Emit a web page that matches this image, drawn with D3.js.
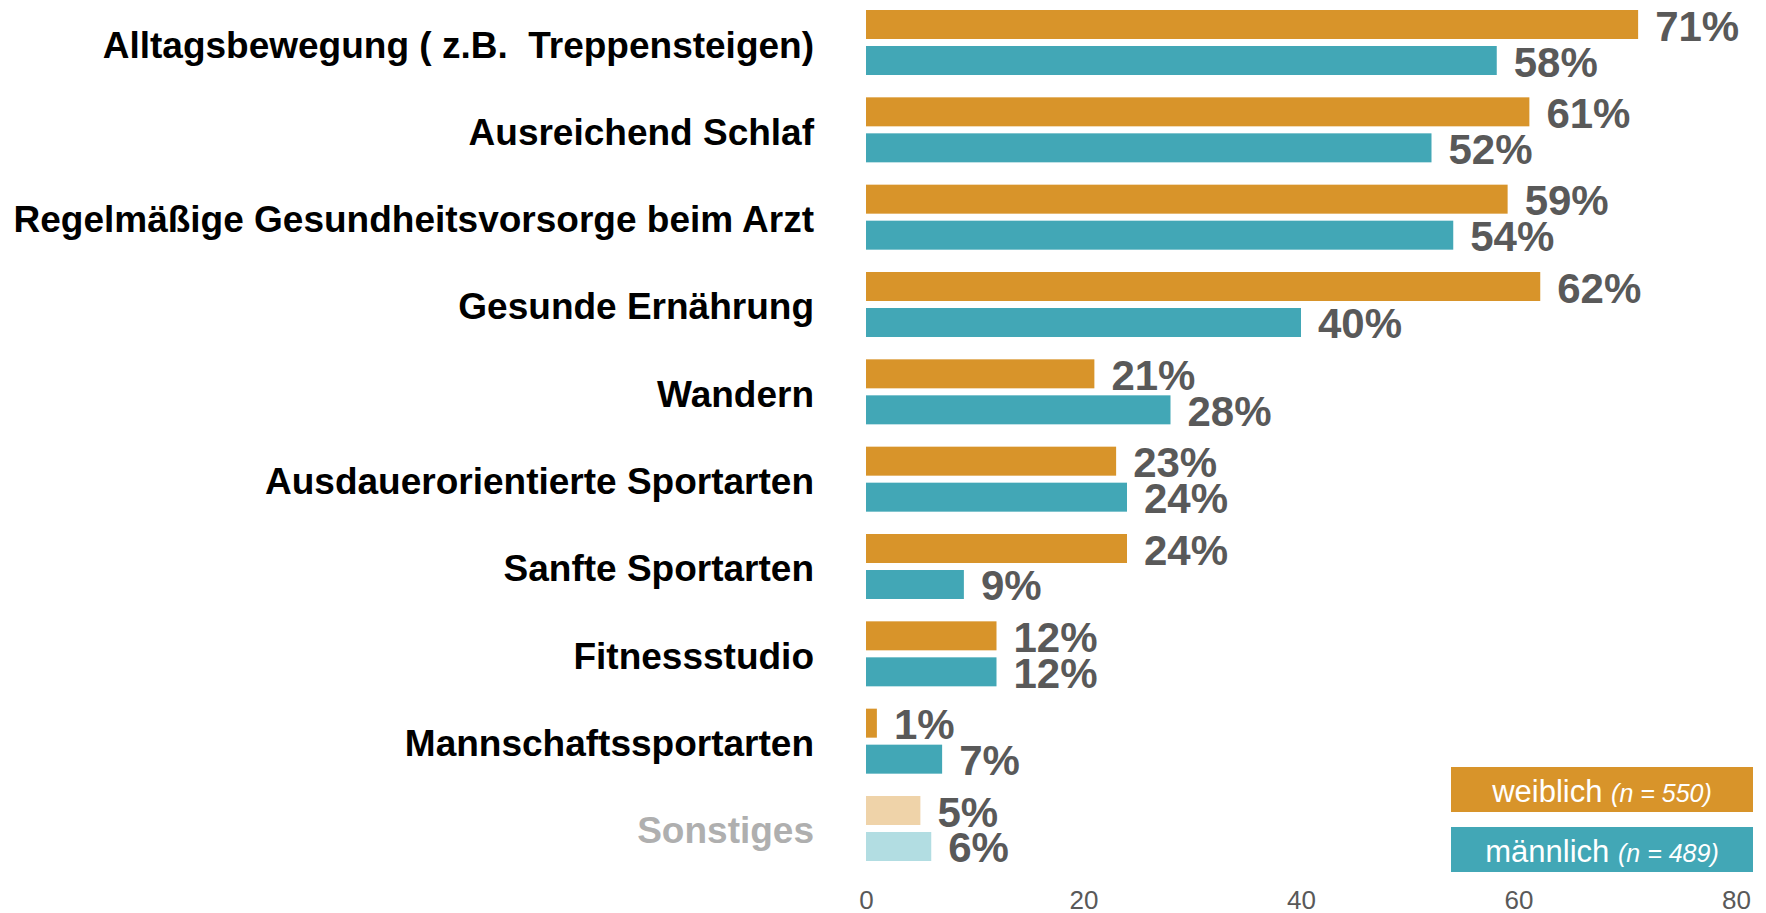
<!DOCTYPE html>
<html>
<head>
<meta charset="utf-8">
<script src="https://cdn.jsdelivr.net/npm/d3@7"></script>
<style>
  html, body { margin: 0; padding: 0; background: #ffffff; }
  svg { display: block; }
  text { white-space: pre; }
</style>
</head>
<body>
<svg id="chart" width="1766" height="913"></svg>
<script>
// ---- data ----
const categories = [
  "Alltagsbewegung ( z.B.  Treppensteigen)",
  "Ausreichend Schlaf",
  "Regelmäßige Gesundheitsvorsorge beim Arzt",
  "Gesunde Ernährung",
  "Wandern",
  "Ausdauerorientierte Sportarten",
  "Sanfte Sportarten",
  "Fitnessstudio",
  "Mannschaftssportarten",
  "Sonstiges"
];
const weiblich  = [71, 61, 59, 62, 21, 23, 24, 12, 1, 5];
const maennlich = [58, 52, 54, 40, 28, 24, 9, 12, 7, 6];
const seriesKeys = ["weiblich", "männlich"];
const seriesN = [550, 489];
const xTicks = [0, 20, 40, 60, 80];

// ---- styles ----
const colors = { "weiblich": "#D8942A", "männlich": "#42A7B6" };
const fadedColors = { "weiblich": "#EFD3A9", "männlich": "#B2DDE2" };
const fadedCategory = "Sonstiges";

const svg = d3.select("#chart");

const x = d3.scaleLinear().domain([0, 80]).range([866, 1736]);
const y = d3.scaleBand().domain(categories).range([10, 861]).paddingInner(0.2557).paddingOuter(0);
const ySub = d3.scaleBand().domain(seriesKeys).range([0, y.bandwidth()]).paddingInner(7 / 36);

const rows = categories.map((c, i) => ({
  cat: c,
  values: [
    { key: "weiblich", v: weiblich[i] },
    { key: "männlich", v: maennlich[i] }
  ]
}));

const groups = svg.append("g").selectAll("g.row")
  .data(rows).join("g")
  .attr("class", "row")
  .attr("transform", d => `translate(0,${y(d.cat)})`);

groups.selectAll("rect")
  .data(d => d.values.map(v => ({ ...v, cat: d.cat })))
  .join("rect")
  .attr("x", x(0))
  .attr("y", d => ySub(d.key))
  .attr("width", d => x(d.v) - x(0))
  .attr("height", ySub.bandwidth())
  .attr("fill", d => d.cat === fadedCategory ? fadedColors[d.key] : colors[d.key]);

groups.selectAll("text.val")
  .data(d => d.values)
  .join("text")
  .attr("class", "val")
  .attr("x", d => x(d.v) + 17)
  .attr("y", d => ySub(d.key) + ySub.bandwidth() + 1.5)
  .attr("font-family", "'Liberation Sans', Arial, sans-serif")
  .attr("font-weight", "bold")
  .attr("font-size", 42)
  .attr("fill", "#595959")
  .text(d => d.v + "%");

groups.append("text")
  .attr("class", "cat")
  .attr("x", 814)
  .attr("y", y.bandwidth() / 2 + 15)
  .attr("text-anchor", "end")
  .attr("font-family", "'Liberation Sans', Arial, sans-serif")
  .attr("font-weight", "bold")
  .attr("font-size", 37)
  .attr("fill", d => d.cat === fadedCategory ? "#AFAFAF" : "#000000")
  .text(d => d.cat);

// ---- x axis (labels only) ----
const axis = svg.append("g")
  .attr("transform", "translate(0,886)")
  .call(d3.axisBottom(x).tickValues(xTicks).tickSize(0).tickPadding(0).tickFormat(d3.format("d")));
axis.select(".domain").remove();
axis.selectAll("text")
  .attr("dy", null)
  .attr("y", 23)
  .attr("font-family", "'Liberation Sans', Arial, sans-serif")
  .attr("font-size", 26)
  .attr("fill", "#595959");

// ---- legend ----
const legend = svg.append("g").attr("transform", "translate(1451,767)");
const li = legend.selectAll("g").data(seriesKeys).join("g")
  .attr("transform", (d, i) => `translate(0,${i * 60})`);
li.append("rect").attr("width", 302).attr("height", 45).attr("fill", d => colors[d]);
const lt = li.append("text")
  .attr("x", 151).attr("y", 34.5)
  .attr("text-anchor", "middle")
  .attr("font-family", "'Liberation Sans', Arial, sans-serif")
  .attr("fill", "#ffffff");
lt.append("tspan").attr("font-size", 31).text(d => d + " ");
lt.append("tspan").attr("font-size", 25).attr("font-style", "italic")
  .text((d, i) => `(n = ${seriesN[i]})`);
</script>
</body>
</html>
